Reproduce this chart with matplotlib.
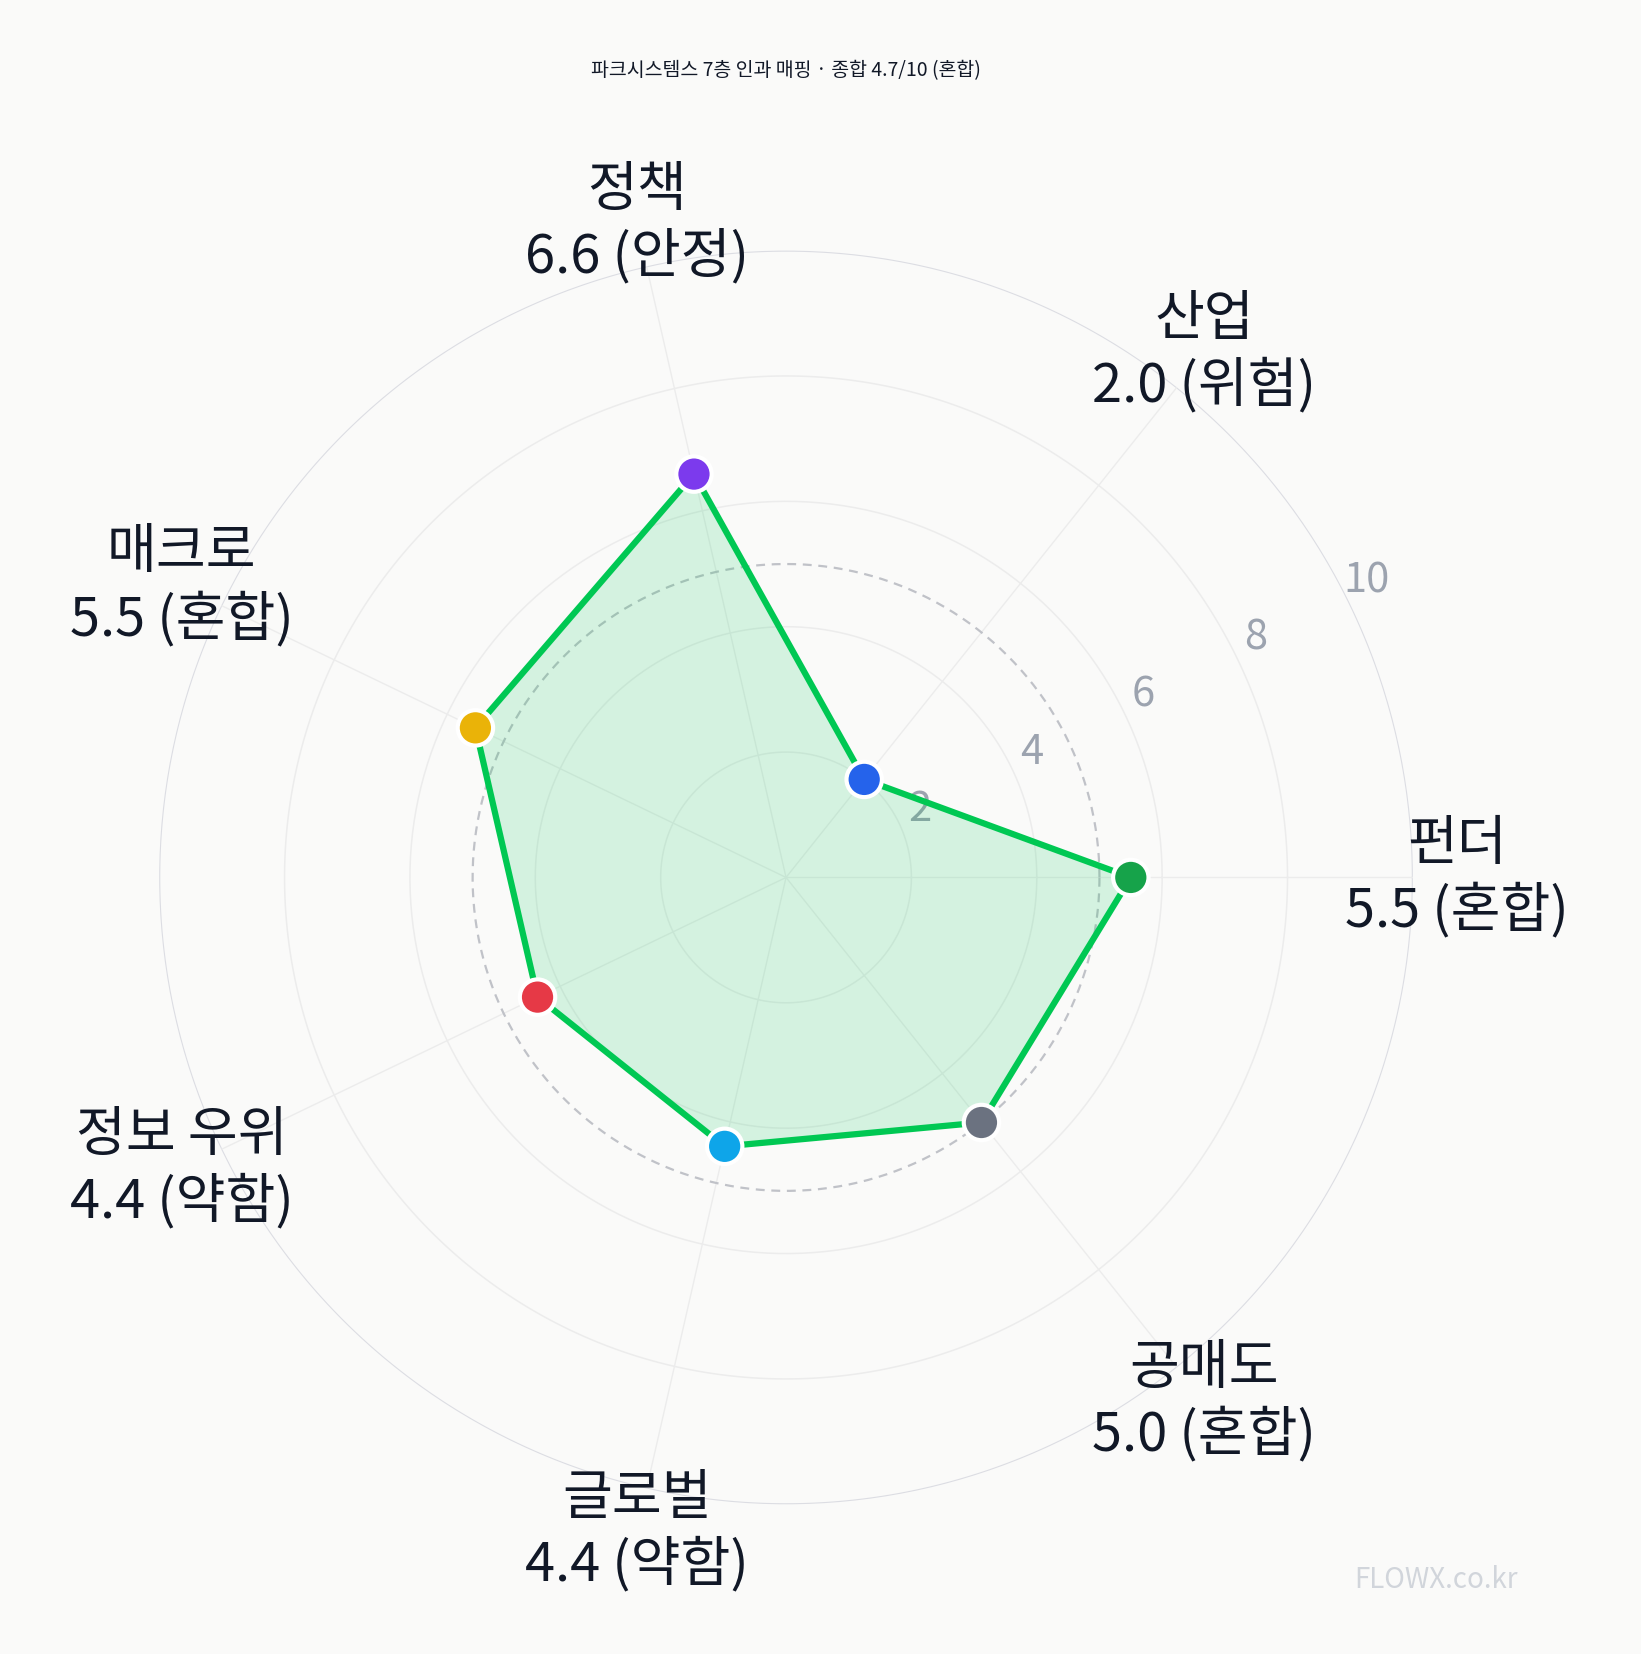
import numpy as np
import matplotlib
matplotlib.use("Agg")
import matplotlib.pyplot as plt

plt.rcParams['font.family'] = ['Noto Sans CJK KR', 'DejaVu Sans']

# Axis names, scores, status words and point colors (counter-clockwise from the right)
axis_names = ["펀더", "산업", "정책", "매크로", "정보 우위", "글로벌", "공매도"]
scores = [5.5, 2.0, 6.6, 5.5, 4.4, 4.4, 5.0]
status = ["혼합", "위험", "안정", "혼합", "약함", "약함", "혼합"]
point_colors = ["#16a34a", "#2563eb", "#7c3aed", "#eab308", "#e63946", "#0ea5e9", "#6b7280"]
ring_ticks = [2, 4, 6, 8, 10]
title = "파크시스템스 7층 인과 매핑 · 종합 4.7/10 (혼합)"

BG = "#fafaf9"
fig = plt.figure(figsize=(16.41, 16.54), dpi=100, facecolor=BG)
ax = fig.add_axes([0.097, 0.090, 0.764, 0.759], projection="polar", facecolor=BG)

n = len(axis_names)
angles = np.arange(n) * 2 * np.pi / n
ax.set_ylim(0, 10)
ax.set_xticks([])
ax.set_yticks([])
ax.grid(False)
ax.spines["polar"].set_visible(False)

# rings and spokes
theta = np.linspace(0, 2 * np.pi, 400)
for r in ring_ticks:
    ax.plot(theta, [r] * len(theta), color="#dcdde3" if r == 10 else "#ececec",
            lw=1.6 if r == 10 else 1.1, zorder=1)
for a in angles:
    ax.plot([a, a], [0, 10], color="#ececec", lw=1, zorder=1)
ax.plot(theta, [5] * len(theta), color="#c0c2c8", lw=1.6, ls=(0, (4, 3)), zorder=2)

# ring labels
for r in ring_ticks:
    ax.text(np.deg2rad(27), r + 0.4, str(r), color="#9ca3af", fontsize=30,
            ha="center", va="center", zorder=3)

# data polygon
a_closed = np.append(angles, angles[0])
s_closed = np.append(scores, scores[0])
ax.fill(a_closed, s_closed, color="#00c853", alpha=0.15, lw=0, zorder=3)
ax.plot(a_closed, s_closed, color="#00c853", lw=4.5, zorder=4)
ax.scatter(angles, scores, s=650, c=point_colors, edgecolors="white",
           linewidths=3, zorder=5)

# axis labels
for a, name, sc, st in zip(angles, axis_names, scores, status):
    ax.text(a, 10.7, f"{name}\n{sc:.1f} ({st})", fontsize=39, color="#111827",
            ha="center", va="center", linespacing=1.25, clip_on=False, zorder=6)

fig.text(0.479, 0.957, title, fontsize=14, color="#111827", ha="center", va="center")
fig.text(0.875, 0.045, "FLOWX.co.kr", fontsize=20, color="#d1d5db", ha="center", va="center")

fig.savefig("out.png", dpi=100, facecolor=BG)
